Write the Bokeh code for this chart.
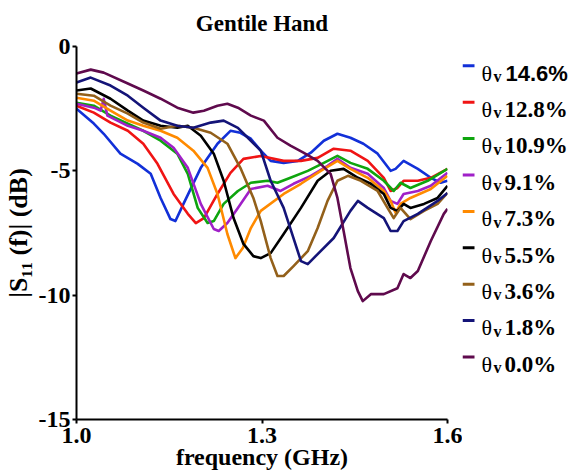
from bokeh.plotting import figure
from bokeh.layouts import row
from bokeh.models import FixedTicker, PrintfTickFormatter, Range1d, Label, BoxAnnotation
from bokeh.embed import file_html
from bokeh.resources import INLINE

SERIF = "Liberation Serif"
SANS = "Liberation Sans"

# volumetric water content of each sweep
theta_v = ["14.6%", "12.8%", "10.9%", "9.1%", "7.3%", "5.5%", "3.6%", "1.8%", "0.0%"]
colors = ["#1230d8", "#f01414", "#0ea50e", "#a020c8", "#ff8a00",
          "#000000", "#93601a", "#141478", "#5f0a4d"]

x_ticks = [1.0, 1.3, 1.6]
y_ticks = [0, -5, -10, -15]

# |S11| sweeps: frequency (GHz) and magnitude (dB)
f_146 = [1.000, 1.028, 1.044, 1.071, 1.099, 1.120, 1.136, 1.152, 1.160, 1.173, 1.201, 1.228,
         1.249, 1.265, 1.282, 1.298, 1.314, 1.335, 1.358, 1.379, 1.400, 1.422, 1.443, 1.464,
         1.487, 1.508, 1.516, 1.529, 1.552, 1.573, 1.589, 1.600]
s_146 = [-2.50, -3.10, -3.51, -4.31, -4.72, -5.12, -6.09, -6.94, -7.02, -6.33, -4.88, -3.91,
         -3.39, -3.47, -3.71, -4.19, -4.60, -4.68, -4.60, -4.27, -3.79, -3.51, -3.67, -3.91,
         -4.31, -5.00, -4.92, -4.60, -4.92, -5.28, -5.48, -5.40]

f_128 = [1.000, 1.028, 1.055, 1.083, 1.108, 1.131, 1.157, 1.180, 1.193, 1.206, 1.228, 1.249,
         1.270, 1.298, 1.335, 1.363, 1.390, 1.416, 1.443, 1.471, 1.497, 1.508, 1.519, 1.529,
         1.552, 1.573, 1.600]
s_128 = [-2.38, -2.66, -3.06, -3.39, -3.91, -4.72, -5.93, -6.73, -7.10, -6.90, -5.93, -5.08,
         -4.52, -4.40, -4.60, -4.60, -4.48, -4.11, -4.19, -4.60, -5.28, -5.81, -5.69, -5.40,
         -5.40, -5.28, -4.92]

f_109 = [1.000, 1.028, 1.055, 1.083, 1.108, 1.136, 1.163, 1.180, 1.196, 1.212, 1.222, 1.238,
         1.261, 1.282, 1.309, 1.325, 1.346, 1.374, 1.400, 1.422, 1.443, 1.471, 1.497, 1.513,
         1.524, 1.540, 1.568, 1.600]
s_109 = [-2.26, -2.38, -2.78, -3.10, -3.39, -3.79, -4.31, -5.12, -6.49, -7.10, -7.02, -6.33,
         -5.81, -5.48, -5.40, -5.48, -5.28, -5.00, -4.68, -4.40, -4.68, -4.92, -5.40, -5.81,
         -5.48, -5.69, -5.40, -4.92]

f_91 = [1.000, 1.028, 1.039, 1.044, 1.050, 1.083, 1.108, 1.136, 1.157, 1.180, 1.201, 1.222,
        1.230, 1.244, 1.261, 1.282, 1.309, 1.330, 1.351, 1.379, 1.406, 1.422, 1.443, 1.471,
        1.497, 1.508, 1.519, 1.529, 1.552, 1.573, 1.600]
s_91 = [-2.30, -2.46, -2.58, -2.10, -2.78, -3.19, -3.39, -3.67, -4.07, -4.88, -6.33, -7.34,
        -7.42, -7.10, -6.49, -5.73, -5.60, -5.81, -5.52, -5.20, -4.80, -4.52, -4.88, -5.12,
        -5.69, -6.21, -6.33, -5.93, -5.81, -5.60, -5.08]

f_73 = [1.000, 1.028, 1.055, 1.083, 1.108, 1.136, 1.163, 1.189, 1.212, 1.228, 1.244, 1.257,
        1.269, 1.282, 1.298, 1.335, 1.363, 1.395, 1.422, 1.443, 1.471, 1.497, 1.508, 1.516,
        1.524, 1.540, 1.573, 1.600]
s_73 = [-2.06, -2.18, -2.58, -2.98, -3.19, -3.39, -3.67, -4.19, -4.88, -5.93, -7.54, -8.51,
        -8.10, -7.30, -6.61, -5.93, -5.52, -5.00, -4.60, -4.92, -5.28, -5.81, -6.21, -6.69,
        -6.33, -6.09, -5.73, -5.20]

f_55 = [1.000, 1.023, 1.055, 1.083, 1.108, 1.136, 1.163, 1.180, 1.201, 1.222, 1.238, 1.254,
        1.270, 1.286, 1.298, 1.314, 1.335, 1.363, 1.390, 1.411, 1.432, 1.455, 1.476, 1.497,
        1.508, 1.519, 1.529, 1.540, 1.562, 1.584, 1.600]
s_55 = [-1.77, -1.69, -2.10, -2.58, -2.98, -3.19, -3.27, -3.19, -3.59, -4.31, -5.40, -6.90,
        -7.94, -8.43, -8.51, -8.31, -7.54, -6.49, -5.40, -5.00, -4.92, -5.28, -5.52, -5.93,
        -6.49, -6.61, -6.33, -6.49, -6.33, -6.09, -5.60]

f_36 = [1.000, 1.028, 1.055, 1.083, 1.108, 1.136, 1.163, 1.189, 1.217, 1.244, 1.265, 1.286,
        1.298, 1.314, 1.325, 1.335, 1.351, 1.374, 1.390, 1.406, 1.422, 1.439, 1.460, 1.487,
        1.503, 1.513, 1.524, 1.540, 1.562, 1.584, 1.600]
s_36 = [-1.90, -1.98, -2.38, -2.70, -3.06, -3.31, -3.19, -3.27, -3.47, -3.91, -4.88, -6.09,
        -7.02, -8.51, -9.23, -9.23, -8.83, -8.23, -7.30, -6.21, -5.40, -5.20, -5.40, -5.81,
        -6.49, -6.90, -6.49, -6.94, -6.61, -6.33, -5.89]

f_18 = [1.000, 1.023, 1.055, 1.083, 1.108, 1.136, 1.163, 1.189, 1.217, 1.238, 1.261, 1.282,
        1.298, 1.314, 1.335, 1.363, 1.374, 1.390, 1.416, 1.443, 1.455, 1.471, 1.497, 1.508,
        1.519, 1.529, 1.552, 1.584, 1.600]
s_18 = [-1.45, -1.25, -1.57, -1.98, -2.46, -2.98, -3.19, -3.27, -3.06, -2.98, -3.27, -3.79,
        -4.19, -5.40, -6.49, -8.63, -8.75, -8.35, -7.70, -6.61, -6.21, -6.49, -6.90, -7.42,
        -7.42, -7.02, -6.73, -6.21, -5.89]

f_00 = [1.000, 1.023, 1.044, 1.083, 1.108, 1.136, 1.163, 1.189, 1.206, 1.228, 1.244, 1.261,
        1.282, 1.303, 1.325, 1.346, 1.367, 1.390, 1.411, 1.422, 1.432, 1.443, 1.455, 1.463,
        1.476, 1.497, 1.519, 1.529, 1.540, 1.552, 1.573, 1.594, 1.600]
s_00 = [-1.09, -0.93, -1.05, -1.49, -1.77, -2.10, -2.46, -2.66, -2.58, -2.38, -2.30, -2.46,
        -2.78, -2.98, -3.67, -3.99, -4.27, -4.60, -5.12, -6.09, -7.42, -8.91, -9.84, -10.24,
        -9.96, -9.96, -9.72, -9.15, -9.31, -9.03, -7.82, -6.73, -6.53]

sweeps = [(f_146, s_146), (f_128, s_128), (f_109, s_109), (f_91, s_91), (f_73, s_73),
          (f_55, s_55), (f_36, s_36), (f_18, s_18), (f_00, s_00)]

MAIN_W, H = 462, 473
FRAME_TOP, FRAME_BOTTOM = 46, 419

p = figure(width=MAIN_W, height=H,
           x_range=Range1d(1.0, 1.6), y_range=Range1d(-15, 0),
           output_backend="svg", toolbar_location=None,
           min_border_left=76, min_border_right=MAIN_W - 447,
           min_border_top=FRAME_TOP, min_border_bottom=H - FRAME_BOTTOM)
p.outline_line_color = None
p.grid.visible = False
p.background_fill_color = "white"
p.border_fill_color = "white"

p.title.text = "Gentile Hand"
p.title.align = "center"
p.title.vertical_align = "top"
p.title.standoff = 18
p.title.text_font = SERIF
p.title.text_font_style = "bold"
p.title.text_font_size = "23px"
p.title.text_color = "black"

for (fx, sy), c in zip(sweeps, colors):
    p.line(fx, sy, line_color=c, line_width=2.6, line_join="round")

for ax in (p.xaxis[0], p.yaxis[0]):
    ax.axis_line_width = 2
    ax.axis_line_color = "black"
    ax.major_tick_line_width = 2
    ax.major_tick_line_color = "black"
    ax.major_tick_in = 0
    ax.major_tick_out = 4
    ax.minor_tick_line_color = None
    ax.major_label_text_font = SERIF
    ax.major_label_text_font_style = "bold"
    ax.major_label_text_font_size = "24px"
    ax.major_label_text_color = "black"
    ax.axis_label_text_font = SERIF
    ax.axis_label_text_font_style = "bold"
    ax.axis_label_text_color = "black"

p.xaxis.ticker = FixedTicker(ticks=x_ticks)
p.xaxis.formatter = PrintfTickFormatter(format="%.1f")
p.xaxis.major_label_standoff = 4
p.xaxis.axis_label = "frequency (GHz)"
p.xaxis.axis_label_text_font_size = "24px"
p.xaxis.axis_label_standoff = -2

p.yaxis.ticker = FixedTicker(ticks=y_ticks)
p.yaxis.major_label_overrides = {t: str(t) for t in y_ticks}
p.yaxis.major_label_standoff = 2
p.yaxis.axis_label = "|S\u2081\u2081 (f)| (dB)"
p.yaxis.axis_label_text_font_size = "26px"
p.yaxis.axis_label_standoff = 3

# legend panel to the right of the plot; its frame lines up with the plot's frame
LEG_W = 580 - MAIN_W
leg = figure(width=LEG_W, height=H, x_range=Range1d(0, 1), y_range=Range1d(0, 1),
             output_backend="svg", toolbar_location=None,
             x_axis_location=None, y_axis_location=None,
             min_border_left=0, min_border_right=0,
             min_border_top=FRAME_TOP, min_border_bottom=H - FRAME_BOTTOM)
leg.outline_line_color = None
leg.grid.visible = False
leg.background_fill_color = "white"
leg.border_fill_color = "white"


def txt(text, x, y, size, style="bold", font=SERIF):
    leg.add_layout(Label(x=x, y=y, x_units="screen", y_units="screen", text=text,
                         text_font=font, text_font_size=size, text_font_style=style,
                         text_color="black", text_align="left", text_baseline="alphabetic"))


STEP = 36.4
for i, (lab, c) in enumerate(zip(theta_v, colors)):
    mid = FRAME_BOTTOM - (65.3 + STEP * i)
    base = FRAME_BOTTOM - (72.5 + STEP * i)
    leg.add_layout(BoxAnnotation(left=0, right=12, bottom=mid - 1.5, top=mid + 1.5,
                                 left_units="screen", right_units="screen",
                                 bottom_units="screen", top_units="screen",
                                 fill_color=c, fill_alpha=1.0, line_color=None))
    txt("\u03b8", 19, base, "22px", style="normal")
    txt("v", 31, base - 3.5, "16px")
    if i == 0:
        txt(lab, 43, base, "22px", font=SANS)
    else:
        txt(lab, 42, base, "23px")

layout = row(p, leg)
open("out.html", "w").write(file_html(layout, INLINE))
